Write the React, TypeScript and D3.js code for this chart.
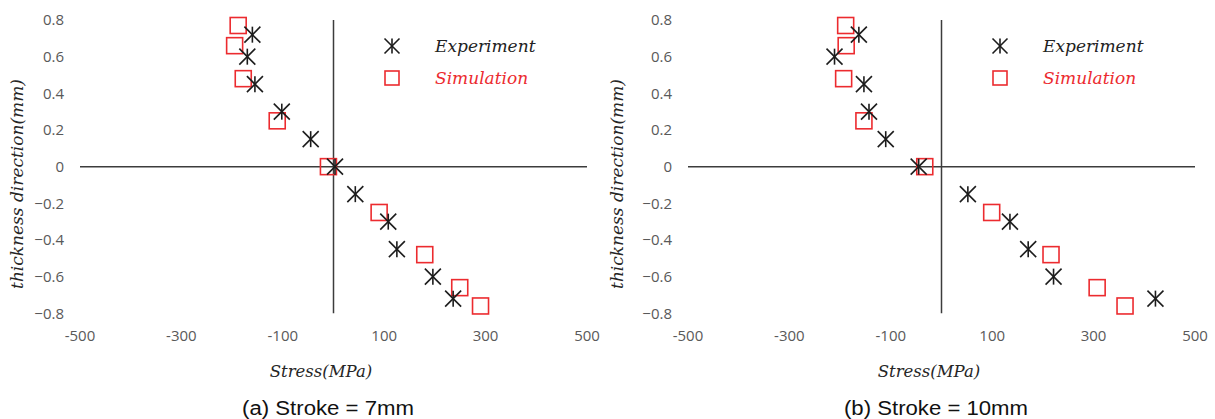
import React from "react";
import * as d3 from "d3";

const xTicks = [-500, -300, -100, 100, 300, 500];
const yTicks = [0.8, 0.6, 0.4, 0.2, 0, -0.2, -0.4, -0.6, -0.8];

const expDepth = [0.72, 0.6, 0.45, 0.3, 0.15, 0, -0.15, -0.3, -0.45, -0.6, -0.72];
const simDepth = [0.77, 0.66, 0.48, 0.25, 0, -0.25, -0.48, -0.66, -0.76];

const expStressA = [-160, -170, -155, -102, -45, 3, 43, 108, 125, 196, 236];
const simStressA = [-188, -195, -178, -111, -10, 90, 180, 249, 290];
const expStressB = [-163, -211, -153, -143, -110, -45, 52, 135, 171, 221, 422];
const simStressB = [-189, -188, -193, -153, -33, 99, 216, 307, 362];

const captions = ["(a) Stroke = 7mm", "(b) Stroke = 10mm"];
const legendLabels = ["Experiment", "Simulation"];

const W = 1215;
const H = 419;
const RED = "#ec2b2f";
const DARK = "#1c1c1c";
const AXIS = "#3c3c3c";
const GRAY = "#595959";

const Star = ({ x, y, r = 8 }: { x: number; y: number; r?: number }) => (
  <g stroke={DARK} strokeWidth={1.6} fill="none">
    <line x1={x} y1={y - r} x2={x} y2={y + r} />
    <line x1={x - r} y1={y - r} x2={x + r} y2={y + r} />
    <line x1={x - r} y1={y + r} x2={x + r} y2={y - r} />
  </g>
);

const Square = ({ x, y, s = 16 }: { x: number; y: number; s?: number }) => (
  <rect x={x - s / 2} y={y - s / 2} width={s} height={s} fill="none" stroke={RED} strokeWidth={1.6} />
);

function Panel({
  dx,
  titleX,
  expX,
  simX,
  caption,
  capLen,
}: {
  dx: number;
  titleX: number;
  expX: number[];
  simX: number[];
  caption: string;
  capLen: number;
}) {
  const x = d3.scaleLinear().domain([-500, 500]).range([80 + dx, 587 + dx]);
  const y = d3.scaleLinear().domain([-0.8, 0.8]).range([313.3, 20]);
  const fmt = (v: number) => (Math.abs(v) < 1e-9 ? "0" : d3.format(".1f")(v));
  const italic = { fontFamily: "'DejaVu Serif', serif", fontStyle: "italic" as const };
  return (
    <g>
      <line x1={x(-500)} x2={x(500)} y1={y(0)} y2={y(0)} stroke={AXIS} strokeWidth={1.5} />
      <line x1={x(0)} x2={x(0)} y1={y(0.8)} y2={y(-0.8)} stroke={AXIS} strokeWidth={1.5} />
      {yTicks.map((t) => (
        <text
          key={"y" + t}
          x={64 + dx}
          y={y(t)}
          dy="0.35em"
          textAnchor="end"
          fontFamily="'Open Sans', sans-serif"
          fontSize={15}
          fill={GRAY}
        >
          {fmt(t)}
        </text>
      ))}
      {xTicks.map((t) => (
        <text
          key={"x" + t}
          x={x(t)}
          y={336}
          dy="0.35em"
          textAnchor="middle"
          fontFamily="'Open Sans', sans-serif"
          fontSize={15}
          fill={GRAY}
        >
          {t}
        </text>
      ))}
      <text x={321 + dx} y={371} dy="0.35em" textAnchor="middle" fontSize={16.5} fill="#262626" {...italic}>
        Stress(MPa)
      </text>
      <text
        transform={`translate(${titleX},${184}) rotate(-90)`}
        dy="0.35em"
        textAnchor="middle"
        fontSize={17}
        fill="#262626"
        {...italic}
      >
        thickness direction(mm)
      </text>
      <text
        x={328 + dx}
        y={415}
        textAnchor="middle"
        fontFamily="'Liberation Sans', Arial, sans-serif"
        fontSize={20}
        fill="#111"
        textLength={capLen}
        lengthAdjust="spacingAndGlyphs"
      >
        {caption}
      </text>
      {simX.map((v, i) => (
        <Square key={"s" + i} x={x(v)} y={y(simDepth[i])} />
      ))}
      {expX.map((v, i) => (
        <Star key={"e" + i} x={x(v)} y={y(expDepth[i])} />
      ))}
      <Star x={392 + dx} y={46} r={7.5} />
      <Square x={392 + dx} y={78} s={14} />
      <text x={435 + dx} y={46} dy="0.35em" fontSize={17} fill="#222" {...italic}>
        {legendLabels[0]}
      </text>
      <text x={435 + dx} y={78} dy="0.35em" fontSize={17} fill={RED} {...italic}>
        {legendLabels[1]}
      </text>
    </g>
  );
}

export default function App() {
  return (
    <svg
      width={W}
      height={H}
      viewBox={`0 0 ${W} ${H}`}
      style={{ position: "absolute", left: 0, top: 0, background: "#fff" }}
    >
      <rect width={W} height={H} fill="#fff" />
      <Panel dx={0} titleX={17.5} expX={expStressA} simX={simStressA} caption={captions[0]} capLen={172} />
      <Panel dx={608} titleX={617} expX={expStressB} simX={simStressB} caption={captions[1]} capLen={184} />
    </svg>
  );
}
